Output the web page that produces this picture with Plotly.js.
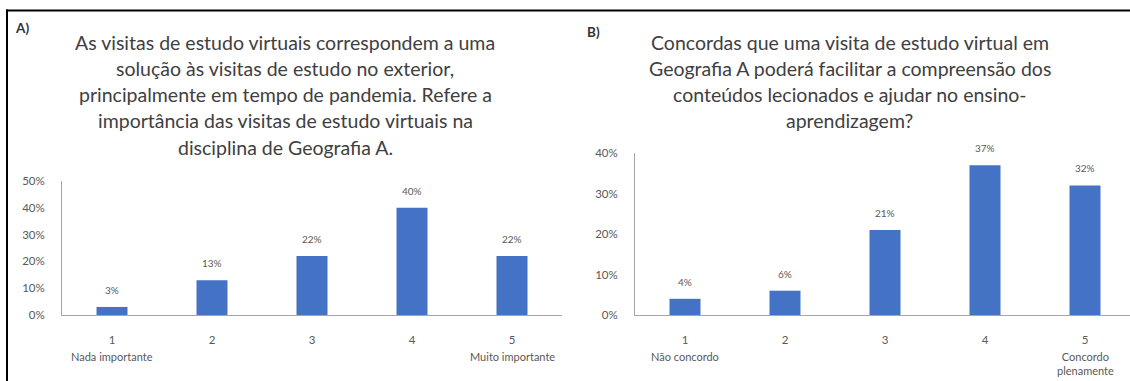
<!DOCTYPE html>
<html>
<head>
<meta charset="utf-8">
<script src="https://cdn.plot.ly/plotly-3.0.1.min.js"></script>
<style>
  html, body { margin: 0; padding: 0; background: #ffffff; }
  #chart { width: 1130px; height: 381px; }
</style>
</head>
<body>
<div id="chart"></div>
<script>
// ---- data ----
const categories = ['1', '2', '3', '4', '5'];
const valuesA = [0.03, 0.13, 0.22, 0.40, 0.22];
const valuesB = [0.04, 0.06, 0.21, 0.37, 0.32];
const yTicksA = [0, 0.1, 0.2, 0.3, 0.4, 0.5];
const yTicksB = [0, 0.1, 0.2, 0.3, 0.4];
const titleLinesA = [
  'As visitas de estudo virtuais correspondem a uma',
  'solução às visitas de estudo no exterior,',
  'principalmente em tempo de pandemia. Refere a',
  'importância das visitas de estudo virtuais na',
  'disciplina de Geografia A.'
];
const titleLinesB = [
  'Concordas que uma visita de estudo virtual em',
  'Geografia A poderá facilitar a compreensão dos',
  'conteúdos lecionados e ajudar no ensino-',
  'aprendizagem?'
];
const endLabelsA = [[0, 'Nada importante'], [4, 'Muito importante']];
const endLabelsB = [[0, 'Não concordo'], [4, 'Concordo<br>plenamente']];
const panelLetters = ['A)', 'B)'];

// ---- style ----
const W = 1130, H = 381;
const FONT = 'Lato, "Open Sans", sans-serif';
const BAR = '#4472C4';
const GREY = '#595959';
const AXIS = '#a6a6a6';
const px = v => v / W;
const py = v => 1 - v / H;

const traces = [
  { type: 'bar', x: categories, y: valuesA, xaxis: 'x', yaxis: 'y',
    marker: { color: BAR }, hoverinfo: 'skip' },
  { type: 'bar', x: categories, y: valuesB, xaxis: 'x2', yaxis: 'y2',
    marker: { color: BAR }, hoverinfo: 'skip' }
];

const annotations = [];
function pct(v) { return Math.round(v * 100) + '%'; }
categories.forEach((c, i) => {
  annotations.push({ xref: 'x', yref: 'y', x: i, y: valuesA[i], text: pct(valuesA[i]),
    showarrow: false, yanchor: 'bottom', yshift: 9, font: { family: FONT, size: 10, color: GREY } });
  annotations.push({ xref: 'x2', yref: 'y2', x: i, y: valuesB[i], text: pct(valuesB[i]),
    showarrow: false, yanchor: 'bottom', yshift: 9, font: { family: FONT, size: 10, color: GREY } });
});
titleLinesA.forEach((t, i) => {
  annotations.push({ xref: 'paper', yref: 'paper', x: px(285), y: py(42 + i * 26.3), text: t,
    showarrow: false, xanchor: 'center', yanchor: 'middle',
    font: { family: FONT, size: 19.5, color: '#404040' } });
});
titleLinesB.forEach((t, i) => {
  annotations.push({ xref: 'paper', yref: 'paper', x: px(850), y: py(42 + i * 26.3), text: t,
    showarrow: false, xanchor: 'center', yanchor: 'middle',
    font: { family: FONT, size: 19.5, color: '#404040' } });
});
endLabelsA.forEach(([c, t]) => {
  annotations.push({ xref: 'x', yref: 'paper', x: c, y: py(348), text: t, showarrow: false,
    xanchor: 'center', yanchor: 'top', font: { family: FONT, size: 11, color: GREY } });
});
endLabelsB.forEach(([c, t]) => {
  annotations.push({ xref: 'x2', yref: 'paper', x: c, y: py(348), text: t, showarrow: false,
    xanchor: 'center', yanchor: 'top', font: { family: FONT, size: 11, color: GREY } });
});
annotations.push({ xref: 'paper', yref: 'paper', x: px(13), y: py(28), text: '<b>' + panelLetters[0] + '</b>',
  showarrow: false, xanchor: 'left', yanchor: 'middle', font: { family: FONT, size: 13.5, color: '#333333' } });
annotations.push({ xref: 'paper', yref: 'paper', x: px(585), y: py(32), text: '<b>' + panelLetters[1] + '</b>',
  showarrow: false, xanchor: 'left', yanchor: 'middle', font: { family: FONT, size: 13.5, color: '#333333' } });

const xCommon = {
  type: 'category', showgrid: false, zeroline: false, showline: true, linecolor: AXIS, linewidth: 1,
  ticks: '', ticklabelstandoff: 14, tickfont: { family: FONT, size: 11.5, color: GREY }, fixedrange: true
};
const yCommon = {
  showgrid: false, zeroline: false, showline: true, linecolor: AXIS, linewidth: 1,
  ticks: '', tickformat: '.0%', ticklabelstandoff: 14,
  tickfont: { family: FONT, size: 11.5, color: GREY }, fixedrange: true
};

const layout = {
  width: W, height: H, autosize: false,
  margin: { l: 0, r: 0, t: 0, b: 0 },
  paper_bgcolor: '#ffffff', plot_bgcolor: '#ffffff',
  showlegend: false, bargap: 0.69,
  xaxis: Object.assign({}, xCommon, { domain: [px(62), px(562)], range: [-0.5, 4.5], anchor: 'y' }),
  yaxis: Object.assign({}, yCommon, { domain: [py(315), py(181)], range: [0, 0.5], tickvals: yTicksA, anchor: 'x' }),
  xaxis2: Object.assign({}, xCommon, { domain: [px(635), 1], range: [-0.5, 4.45], anchor: 'y2' }),
  yaxis2: Object.assign({}, yCommon, { domain: [py(315), py(153)], range: [0, 0.4], tickvals: yTicksB, anchor: 'x2' }),
  annotations: annotations,
  shapes: [
    { type: 'line', xref: 'paper', yref: 'paper', x0: px(6), x1: 1, y0: py(10.5), y1: py(10.5),
      line: { color: '#000000', width: 2 } },
    { type: 'line', xref: 'paper', yref: 'paper', x0: px(7), x1: px(7), y0: py(9.5), y1: 0,
      line: { color: '#000000', width: 2 } }
  ]
};

Plotly.newPlot('chart', traces, layout, { displayModeBar: false, staticPlot: true });
</script>
</body>
</html>
